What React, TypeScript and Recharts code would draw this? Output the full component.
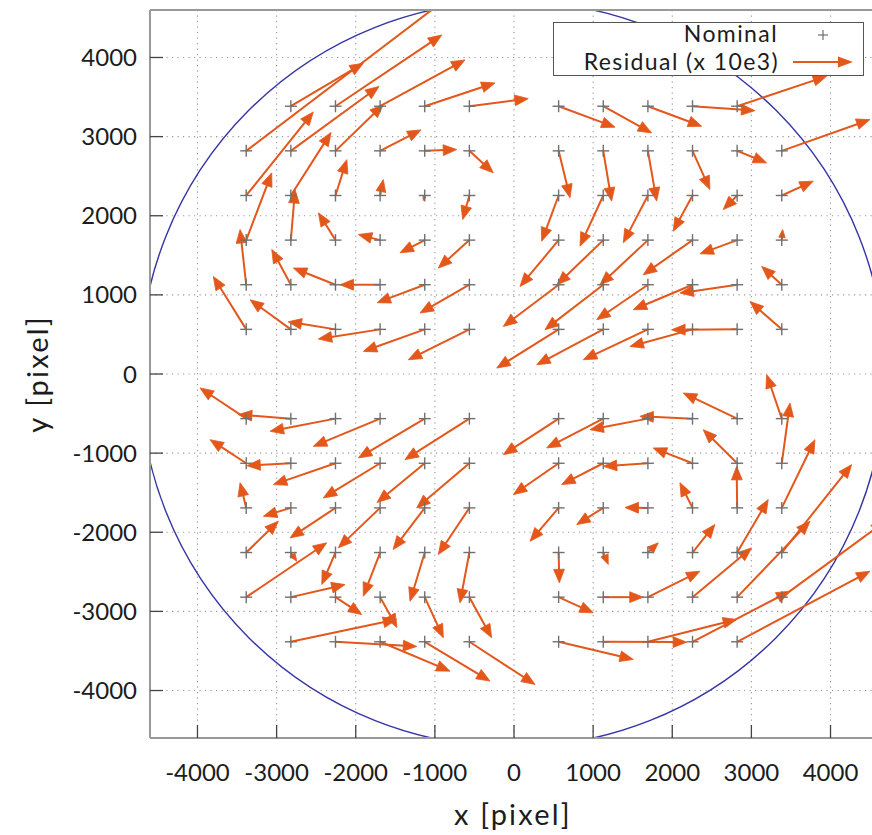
import React from 'react';
import {
  ScatterChart,
  Scatter,
  XAxis,
  YAxis,
  CartesianGrid,
  ReferenceLine,
  ReferenceArea,
  Legend,
} from 'recharts';

const FONT = 'Lato, "Open Sans", sans-serif';
const ARROW_COLOR = '#e4571b';
const CIRCLE_COLOR = '#3535a8';
const NOMINAL_COLOR = '#707070';

// nominal grid (pixel)
const GRID_X = [-3384, -2820, -2256, -1692, -1128, -564, 564, 1128, 1692, 2256, 2820, 3384];
const GRID_Y = [3384, 2820, 2256, 1692, 1128, 564, -564, -1128, -1692, -2256, -2820, -3384];

// residuals x 10e3, one row per GRID_Y entry, one column per GRID_X entry (null = no point)
const RES_DX: (number | null)[][] = [
  [null, 916, 1343, 1073, 888, 744, 713, 611, 680, 788, 1131, null],
  [2676, 1114, 605, 517, 404, 302, 144, 106, 111, 220, 373, 1114],
  [848, 508, 143, 40, -18, -85, -214, -294, -311, -244, -176, 398],
  [322, 53, -216, -275, -312, -393, -488, -585, -605, -623, -470, 11],
  [-78, -241, -532, -507, -603, -624, -699, -737, -647, -749, -723, -254],
  [-416, -515, -599, -781, -776, -772, -782, -841, -816, -791, -828, -402],
  [-584, -663, -826, -844, -839, -814, -699, -715, -732, -665, -681, -191],
  [-457, -557, -785, -718, -603, -666, -572, -526, -563, -497, -428, 104],
  [-78, -347, -574, -528, -400, -393, -361, -336, -289, -159, -6, 419],
  [406, 75, -173, -212, -186, -119, 9, 63, 131, 283, 393, 883],
  [1017, 685, 332, 214, 235, 282, 438, 505, 658, 747, 920, 1304],
  [null, 1338, 1027, 883, 825, 829, 944, 1054, 1122, 1231, 1678, null],
];
const RES_DY: (number | null)[][] = [
  [null, 543, 900, 585, 294, 96, -265, -337, -253, -56, 379, null],
  [2033, 814, 587, 265, 16, -278, -593, -635, -635, -489, -152, 395],
  [1056, 797, 453, 201, -64, -304, -577, -640, -598, -451, -178, 181],
  [850, 639, 345, 71, -160, -354, -586, -564, -564, -438, -173, 134],
  [698, 446, 211, 0, -227, -357, -527, -568, -442, -316, -105, 231],
  [668, 374, 96, -122, -279, -384, -489, -447, -384, -216, -5, 352],
  [388, 51, -160, -350, -496, -518, -455, -370, -139, 29, 324, 556],
  [298, -30, -270, -438, -497, -564, -396, -270, -39, 193, 424, 761],
  [319, -106, -379, -505, -527, -590, -422, -211, 4, 319, 525, 862],
  [395, -110, -404, -552, -615, -635, -383, -152, 122, 354, 669, 1111],
  [686, 159, -220, -384, -514, -514, -198, 0, 327, 622, 958, 955],
  [null, 282, -59, -371, -497, -539, -223, -5, 282, 639, 891, null],
];

const TICKS = [-4000, -3000, -2000, -1000, 0, 1000, 2000, 3000, 4000];
const DOMAIN: [number, number] = [-4600, 4600];
const CIRCLE_CX = -20;
const CIRCLE_CY = 0;
const CIRCLE_R = 4712;

interface Point {
  x: number;
  y: number;
  dx: number;
  dy: number;
}

const points: Point[] = [];
GRID_Y.forEach((y, r) => {
  GRID_X.forEach((x, c) => {
    const dx = RES_DX[r][c];
    const dy = RES_DY[r][c];
    if (dx === null || dy === null) return;
    points.push({ x, y, dx, dy });
  });
});

const ArrowShape = (props: any) => {
  const { x1, y1, x2, y2, clipPath } = props;
  const vx = x2 - x1;
  const vy = y2 - y1;
  const len = Math.hypot(vx, vy);
  if (!len) return <g />;
  const ux = vx / len;
  const uy = vy / len;
  const head = Math.min(13.5, len * 0.75);
  const half = head * 0.4;
  const bx = x2 - ux * head;
  const by = y2 - uy * head;
  return (
    <g clipPath={clipPath}>
      <line x1={x1} y1={y1} x2={bx + ux * 2} y2={by + uy * 2} stroke={ARROW_COLOR} strokeWidth={2} />
      <polygon
        points={`${x2},${y2} ${bx - uy * half},${by + ux * half} ${bx + uy * half},${by - ux * half}`}
        fill={ARROW_COLOR}
        stroke={ARROW_COLOR}
        strokeWidth={0.8}
      />
    </g>
  );
};

const CircleShape = (props: any) => {
  const { x, y, width, height, clipPath } = props;
  return (
    <ellipse
      cx={x + width / 2}
      cy={y + height / 2}
      rx={Math.abs(width) / 2}
      ry={Math.abs(height) / 2}
      fill="none"
      stroke={CIRCLE_COLOR}
      strokeWidth={1.4}
      clipPath={clipPath}
    />
  );
};

const PlusMark = (props: any) => {
  const { cx, cy } = props;
  return (
    <g>
      <line x1={cx - 6} y1={cy} x2={cx + 6} y2={cy} stroke={NOMINAL_COLOR} strokeWidth={1.4} />
      <line x1={cx} y1={cy - 6} x2={cx} y2={cy + 6} stroke={NOMINAL_COLOR} strokeWidth={1.4} />
    </g>
  );
};

const legendText = { fontSize: 23, fontFamily: FONT, fill: '#1c1c1c', letterSpacing: 1.4 };

const LegendBox = () => (
  <div
    style={{
      width: 311,
      height: 54,
      boxSizing: 'border-box',
      border: '1.3px solid #555',
      background: '#fff',
    }}
  >
    <svg width={309} height={52} style={{ display: 'block', overflow: 'visible' }}>
      <text x={224} y={19} textAnchor="end" {...legendText}>
        Nominal
      </text>
      <line x1={264} y1={12} x2={274} y2={12} stroke={NOMINAL_COLOR} strokeWidth={1.2} />
      <line x1={269} y1={7} x2={269} y2={17} stroke={NOMINAL_COLOR} strokeWidth={1.2} />
      <text x={225} y={47} textAnchor="end" {...legendText}>
        Residual (x 10e3)
      </text>
      <line x1={239} y1={39} x2={288} y2={39} stroke={ARROW_COLOR} strokeWidth={2} />
      <polygon points="299,39 284,33.5 284,44.5" fill={ARROW_COLOR} />
    </svg>
  </div>
);

const tickStyle = { fontSize: 24, fill: '#1c1c1c', fontFamily: FONT };

export default function App() {
  return (
    <div
      style={{
        position: 'absolute',
        left: 0,
        top: 0,
        width: 872,
        height: 835,
        overflow: 'hidden',
        background: '#fff',
      }}
    >
      <ScatterChart
        width={900}
        height={835}
        margin={{ top: 9, right: 21, bottom: 0, left: 0 }}
        style={{ fontFamily: FONT }}
      >
        <CartesianGrid stroke="#9a9a9a" strokeDasharray="1.2 4.3" strokeWidth={1.1} />
        <XAxis
          type="number"
          dataKey="x"
          domain={DOMAIN}
          ticks={TICKS}
          interval={0}
          allowDataOverflow
          height={97}
          tickSize={-13}
          tickMargin={39}
          tick={tickStyle}
          tickLine={{ stroke: '#444', strokeWidth: 1.3 }}
          axisLine={{ stroke: '#999', strokeWidth: 2 }}
          label={{
            content: (p: any) => {
              const vb = p.viewBox || { x: 150, y: 738, width: 728 };
              return (
                <text
                  x={vb.x + vb.width / 2 - 1}
                  y={vb.y + 87}
                  textAnchor="middle"
                  fontSize={29}
                  letterSpacing={2.2}
                  fontFamily={FONT}
                  fill="#1c1c1c"
                >
                  x [pixel]
                </text>
              );
            },
          }}
        />
        <XAxis
          xAxisId="top"
          orientation="top"
          type="number"
          domain={DOMAIN}
          ticks={TICKS}
          interval={0}
          allowDataOverflow
          height={1}
          tickSize={-13}
          tick={false}
          tickLine={{ stroke: '#444', strokeWidth: 1.3 }}
          axisLine={{ stroke: '#999', strokeWidth: 2 }}
        />
        <YAxis
          type="number"
          dataKey="y"
          domain={DOMAIN}
          ticks={TICKS}
          interval={0}
          allowDataOverflow
          width={150}
          tickSize={-13}
          tickMargin={26}
          tick={tickStyle}
          tickLine={{ stroke: '#444', strokeWidth: 1.3 }}
          axisLine={{ stroke: '#999', strokeWidth: 2 }}
          label={{
            content: (p: any) => {
              const vb = p.viewBox || { x: 0, y: 10, height: 728 };
              const cx = vb.x + 36;
              const cy = vb.y + vb.height / 2;
              return (
                <text
                  x={cx}
                  y={cy}
                  transform={`rotate(-90 ${cx} ${cy})`}
                  textAnchor="middle"
                  dominantBaseline="central"
                  fontSize={29}
                  letterSpacing={2.2}
                  fontFamily={FONT}
                  fill="#1c1c1c"
                >
                  y [pixel]
                </text>
              );
            },
          }}
        />
        <YAxis
          yAxisId="right"
          orientation="right"
          type="number"
          domain={DOMAIN}
          ticks={TICKS}
          interval={0}
          allowDataOverflow
          width={1}
          tickSize={-13}
          tick={false}
          tickLine={{ stroke: '#444', strokeWidth: 1.3 }}
          axisLine={{ stroke: '#999', strokeWidth: 2 }}
        />
        <ReferenceArea
          x1={CIRCLE_CX - CIRCLE_R}
          x2={CIRCLE_CX + CIRCLE_R}
          y1={CIRCLE_CY - CIRCLE_R}
          y2={CIRCLE_CY + CIRCLE_R}
          ifOverflow="hidden"
          shape={CircleShape}
        />
        <Scatter data={points} shape={PlusMark} isAnimationActive={false} />
        {points.map((p, i) => (
          <ReferenceLine
            key={i}
            segment={[
              { x: p.x, y: p.y },
              { x: p.x + p.dx, y: p.y + p.dy },
            ]}
            ifOverflow="hidden"
            shape={ArrowShape}
          />
        ))}
        <Legend
          layout="horizontal"
          verticalAlign="middle"
          align="center"
          content={() => <LegendBox />}
          wrapperStyle={{ left: 553, top: 22, width: 311, height: 54 }}
        />
      </ScatterChart>
    </div>
  );
}
